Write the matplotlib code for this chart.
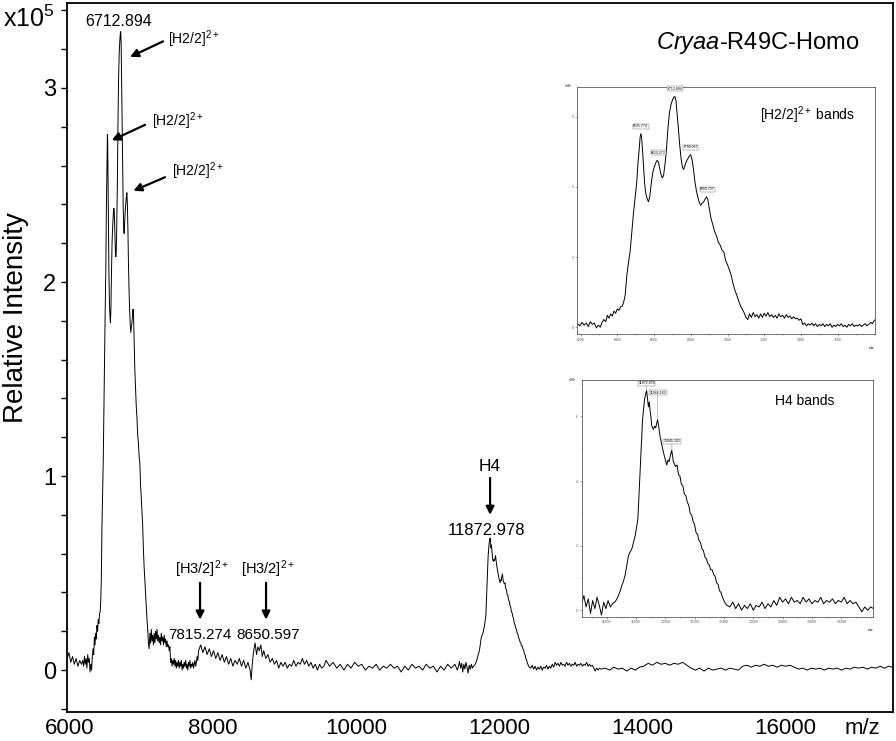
import matplotlib
matplotlib.use("Agg")
import matplotlib.pyplot as plt
from matplotlib.ticker import MultipleLocator
import numpy as np

plt.rcParams['font.family'] = ['Liberation Sans', 'DejaVu Sans']
plt.rcParams['mathtext.fontset'] = 'custom'
plt.rcParams['mathtext.rm'] = 'Liberation Sans'
plt.rcParams['mathtext.it'] = 'Liberation Sans:italic'

# spectrum: m/z and relative intensity (x10^5)
mz = [
    # left baseline
    5965, 5990, 6015, 6040, 6065, 6090, 6115, 6140, 6165,
    # [H2/2]2+ cluster
    6182, 6195, 6207, 6218, 6230, 6241, 6252, 6263, 6274, 6285, 6296, 6306, 6316, 6326, 6336, 6345,
    6354, 6363, 6372, 6381, 6390, 6399, 6408, 6417, 6426, 6434, 6442, 6451, 6460, 6469, 6478, 6487,
    6496, 6505, 6512, 6518, 6523, 6527, 6531, 6536, 6542, 6548, 6555, 6562, 6569, 6576, 6584, 6592,
    6600, 6608, 6616, 6623, 6630, 6637, 6644, 6651, 6658, 6666, 6674, 6683, 6692, 6700, 6707, 6713,
    6719, 6726, 6733, 6740, 6747, 6754, 6761, 6768, 6775, 6783, 6791, 6799, 6806, 6814, 6822, 6830,
    6838, 6846, 6854, 6862, 6870, 6878, 6885, 6892, 6900, 6910, 6920, 6930, 6940, 6950, 6960, 6970,
    6980, 6990, 7000, 7010, 7020, 7030, 7040, 7050, 7060, 7070, 7080, 7090, 7100, 7110, 7120, 7130,
    7140, 7150, 7160, 7170, 7180, 7190, 7200, 7210, 7220, 7230, 7240, 7250, 7260, 7270, 7280, 7290,
    7300, 7310, 7320, 7330, 7340, 7350, 7360, 7370, 7380, 7390, 7400, 7410, 7420, 7430, 7440, 7450,
    7460, 7470, 7480, 7490, 7500, 7510, 7520, 7530, 7540, 7550, 7560, 7570, 7580, 7590, 7600, 7610,
    7620, 7630, 7640, 7650, 7660, 7670, 7680, 7690, 7700, 7710, 7720, 7730, 7740, 7750, 7760, 7770,
    7780, 7790,
    # [H3/2]2+ region and baseline
    7800, 7830, 7860, 7890, 7920, 7950, 7980, 8010, 8040, 8070, 8100, 8130, 8160, 8190, 8220, 8250,
    8280, 8310, 8340, 8370, 8400, 8430, 8460, 8490, 8520, 8535, 8550, 8570, 8590, 8610, 8630, 8650,
    8670, 8690, 8710, 8740, 8770, 8800, 8830, 8860, 8890, 8920, 8950, 8980, 9010, 9040, 9070, 9100,
    9130, 9160, 9190, 9220, 9250, 9280, 9310, 9340, 9370, 9400, 9430, 9460, 9490, 9520, 9550, 9580,
    9630, 9680, 9730, 9780, 9830, 9880, 9930, 9980, 10030, 10080, 10130, 10180, 10230, 10280, 10330,
    10380, 10430, 10480, 10530, 10580, 10630, 10680, 10730, 10780, 10830, 10880, 10930, 10980, 11030,
    11080, 11130, 11180, 11230, 11280, 11330, 11380, 11415,
    # H4 region
    11430, 11445, 11460, 11475, 11490, 11505, 11520, 11535, 11550, 11565, 11580, 11595, 11610, 11625,
    11640, 11658, 11670, 11681, 11693, 11704, 11715, 11726, 11738, 11749, 11760, 11772, 11783, 11795,
    11813, 11829, 11845, 11858, 11866, 11873, 11879, 11885, 11891, 11896, 11902, 11908, 11914, 11919,
    11927, 11935, 11942, 11948, 11956, 11964, 11975, 11987, 11998, 12010, 12018, 12026, 12035, 12044,
    12050, 12055, 12070, 12080, 12090, 12100, 12110, 12120, 12130, 12140, 12150, 12160, 12170, 12180,
    12190, 12200, 12210, 12220, 12230, 12240, 12250, 12260, 12270, 12280, 12290, 12300, 12310, 12320,
    12330, 12340, 12350, 12360, 12370, 12380, 12390, 12400, 12410, 12420, 12440, 12460, 12480, 12500,
    12520, 12540, 12560, 12580, 12600, 12620, 12640, 12660, 12680, 12700, 12720, 12740, 12760, 12780,
    12800, 12820, 12840, 12860, 12880, 12900, 12920, 12940, 12960, 12980, 13000, 13020, 13040, 13060,
    13080, 13100, 13120, 13140, 13160, 13180, 13200, 13220, 13240, 13260, 13280, 13300, 13320, 13340,
    13360, 13380, 13400, 13420,
    # right baseline
    13480, 13540, 13600, 13660, 13720, 13780, 13840, 13900, 13960, 14020, 14080, 14140, 14200, 14260,
    14320, 14380, 14440, 14500, 14560, 14620, 14680, 14740, 14800, 14860, 14920, 14980, 15040, 15100,
    15160, 15220, 15280, 15340, 15400, 15460, 15520, 15580, 15640, 15700, 15760, 15820, 15880, 15940,
    16000, 16060, 16120, 16180, 16240, 16300, 16360, 16420, 16480, 16540, 16600, 16660, 16720, 16780,
    16840, 16900, 16960, 17020, 17080, 17140, 17200, 17260, 17320, 17380, 17440, 17490,
]
intensity = [
    0.06, 0.09, 0.04, 0.07, 0.03, 0.06, 0.02, 0.05, 0.03,
    0.05, 0.02, 0.07, 0.03, 0.06, 0.01, 0.08, 0.04, 0.06, -0.01, 0.03, 0.00, 0.07, 0.11, 0.08, 0.17,
    0.13, 0.19, 0.16, 0.23, 0.20, 0.26, 0.24, 0.29, 0.30, 0.36, 0.46, 0.74, 0.92, 1.08, 1.35, 1.62,
    1.85, 2.07, 2.35, 2.52, 2.70, 2.76, 2.72, 2.55, 2.30, 2.05, 1.90, 1.83, 1.79, 1.86, 2.05, 2.20,
    2.28, 2.34, 2.38, 2.36, 2.27, 2.18, 2.13, 2.16, 2.30, 2.50, 2.80, 3.05, 3.18, 3.24, 3.28, 3.29,
    3.23, 3.02, 2.80, 2.58, 2.40, 2.28, 2.25, 2.31, 2.36, 2.40, 2.44, 2.46, 2.40, 2.26, 2.08, 1.95,
    1.85, 1.78, 1.74, 1.77, 1.79, 1.83, 1.86, 1.83, 1.70, 1.55, 1.46, 1.36, 1.30, 1.21, 1.17, 1.10,
    1.07, 0.95, 0.89, 0.82, 0.74, 0.62, 0.53, 0.46, 0.38, 0.31, 0.26, 0.21, 0.14, 0.11, 0.19, 0.14,
    0.21, 0.15, 0.18, 0.13, 0.19, 0.14, 0.20, 0.16, 0.21, 0.15, 0.18, 0.14, 0.17, 0.13, 0.19, 0.15,
    0.17, 0.13, 0.18, 0.14, 0.16, 0.12, 0.15, 0.12, 0.13, 0.10, 0.12, 0.04, 0.06, 0.02, 0.05, 0.03,
    0.06, 0.02, 0.05, 0.01, 0.04, 0.02, 0.05, 0.01, 0.04, 0.02, 0.05, 0.00, 0.03, 0.01, 0.04, 0.02,
    0.05, 0.01, 0.03, 0.00, 0.04, 0.02, 0.05, 0.01, 0.03, 0.02, 0.04, 0.01, 0.03, 0.05, 0.02, 0.04,
    0.07, 0.05,
    0.10, 0.13, 0.09, 0.12, 0.08, 0.11, 0.07, 0.10, 0.06, 0.09, 0.05, 0.08, 0.04, 0.07, 0.03, 0.06,
    0.02, 0.05, 0.03, 0.06, 0.02, 0.05, 0.01, 0.04, 0.00, -0.05, 0.03, 0.10, 0.14, 0.08, 0.12, 0.10,
    0.13, 0.07, 0.10, 0.06, 0.08, 0.04, 0.06, 0.03, 0.05, 0.01, 0.04, 0.02, 0.04, 0.01, 0.03, 0.02,
    0.05, 0.02, 0.04, 0.03, 0.06, 0.03, 0.05, 0.02, 0.04, 0.01, 0.03, 0.00, 0.03, 0.01, 0.02, 0.05,
    0.02, 0.04, 0.01, 0.03, 0.00, 0.03, 0.01, 0.04, 0.02, 0.03, 0.00, 0.02, 0.01, 0.03, 0.00,
    0.02, 0.01, 0.03, 0.01, 0.02, -0.01, 0.02, 0.00, 0.03, 0.01, 0.02, 0.00, 0.03, 0.01,
    0.02, -0.01, 0.02, 0.00, 0.03, 0.01, 0.03, 0.00,
    0.020, 0.045, 0.010, 0.035, -0.010, 0.030, 0.005, 0.040, 0.015, -0.015, 0.025, 0.005, 0.030, 0.010,
    0.020, 0.026, 0.035, 0.046, 0.060, 0.077, 0.090, 0.108, 0.140, 0.169, 0.180, 0.190, 0.210, 0.231,
    0.282, 0.436, 0.590, 0.651, 0.670, 0.680, 0.655, 0.630, 0.645, 0.620, 0.600, 0.570, 0.565, 0.560,
    0.570, 0.565, 0.580, 0.590, 0.565, 0.540, 0.515, 0.490, 0.470, 0.450, 0.465, 0.460, 0.480, 0.495,
    0.475, 0.460, 0.445, 0.450, 0.420, 0.415, 0.390, 0.385, 0.360, 0.355, 0.335, 0.325, 0.300, 0.295,
    0.275, 0.265, 0.240, 0.235, 0.215, 0.210, 0.190, 0.185, 0.165, 0.160, 0.145, 0.140, 0.125, 0.125,
    0.110, 0.105, 0.085, 0.080, 0.060, 0.055, 0.040, 0.030, 0.020, 0.015, 0.010, 0.025, 0.005, 0.020,
    0.000, 0.015, 0.005, 0.020, 0.000, 0.015, 0.010, 0.025, 0.005, 0.020, 0.010, 0.030, 0.015, 0.040,
    0.025, 0.035, 0.020, 0.040, 0.025, 0.030, 0.020, 0.040, 0.025, 0.035, 0.020, 0.030, 0.025, 0.040,
    0.020, 0.030, 0.025, 0.035, 0.020, 0.030, 0.025, 0.040, 0.020, 0.030, 0.020, 0.025, 0.010, -0.005,
    0.010, 0.000, 0.010, 0.005,
    0.010, 0.000, 0.015, 0.005, 0.010, -0.005, 0.010, 0.000, 0.015, 0.020, 0.035, 0.025, 0.040, 0.030,
    0.035, 0.025, 0.035, 0.030, 0.040, 0.025, 0.010, 0.000, 0.010, -0.005, 0.010, 0.000, 0.005, 0.010,
    0.000, 0.010, 0.005, 0.000, 0.020, 0.025, 0.015, 0.025, 0.020, 0.030, 0.020, 0.025, 0.015, 0.025,
    0.020, 0.025, 0.015, 0.005, 0.010, 0.000, 0.010, 0.005, 0.010, 0.000, 0.010, 0.005, 0.010, 0.000,
    0.010, 0.005, 0.015, 0.010, 0.015, 0.005, 0.015, 0.010, 0.020, 0.010, 0.020, 0.015,
]

xticks_main = [6000, 8000, 10000, 12000, 14000, 16000]
yticks_main = [0, 1, 2, 3]

h2_peaks = [6525.774, 6623.273, 6712.894, 6799.067, 6890.737]
h2_peak_heights = [2.76, 2.38, 3.29, 2.46, 1.86]
h4_peaks = [11872.978, 11948.183, 12045.101]
h4_peak_heights = [6.8, 5.9, 4.95]   # x10^4
h3_peaks = [7815.274, 8650.597]

mz = np.array(mz)
intensity = np.array(intensity)

fig = plt.figure(figsize=(8.96, 7.41), dpi=100)
ax = fig.add_axes([0.0748, 0.039, 0.9219, 0.957])
ax.plot(mz, intensity, color='black', lw=0.7)
ax.set_xlim(5963, 17500)
ax.set_ylim(-0.2165, 3.438)
ax.set_xticks(xticks_main)
ax.set_yticks(yticks_main)
ax.yaxis.set_minor_locator(MultipleLocator(0.2))
ax.tick_params(axis='x', length=0, labelsize=16, pad=4)
ax.tick_params(axis='y', which='both', direction='out', length=4, width=1, labelsize=17, pad=4)
for s in ax.spines.values():
    s.set_linewidth(1.3)
ax.set_ylabel('Relative Intensity', fontsize=20)
ax.yaxis.set_label_coords(-0.046, 0.556)

fig.text(0.003, 0.975, r'x10$^5$', fontsize=18, va='center', ha='left')
fig.text(0.962, 0.017, 'm/z', fontsize=16, va='center', ha='center')
ax.text(0.8366, 0.9436, r'$\it{Cryaa}$-R49C-Homo', transform=ax.transAxes, fontsize=17,
        ha='center', va='center')

# [H2/2]2+ annotations
akw = dict(arrowstyle='-|>', color='black', lw=1.6, mutation_scale=12, shrinkA=0, shrinkB=0)
ax.text(6685, 3.345, '6712.894', fontsize=11.5, ha='center', va='center')
ax.annotate('', xy=(6843, 3.16), xytext=(7304, 3.24), arrowprops=akw)
ax.text(7374, 3.25, r'[H2/2]$^{2+}$', fontsize=10, ha='left', va='center')
ax.annotate('', xy=(6587, 2.73), xytext=(7053, 2.81), arrowprops=akw)
ax.text(7150, 2.83, r'[H2/2]$^{2+}$', fontsize=10, ha='left', va='center')
ax.annotate('', xy=(6889, 2.47), xytext=(7332, 2.54), arrowprops=akw)
ax.text(7426, 2.57, r'[H2/2]$^{2+}$', fontsize=10, ha='left', va='center')

# [H3/2]2+ annotations
for pk, xa, xl in zip(h3_peaks, [7821, 8743], [7821, 8771]):
    ax.annotate('', xy=(xa, 0.26), xytext=(xa, 0.45), arrowprops=akw)
    ax.text(xa + 30, 0.52, r'[H3/2]$^{2+}$', fontsize=10.5, ha='center', va='center')
    ax.text(xl, 0.18, f'{pk:.3f}', fontsize=11, ha='center', va='center')

# H4 annotation
ax.text(11872, 1.048, 'H4', fontsize=12.5, ha='center', va='center')
ax.annotate('', xy=(11872, 0.80), xytext=(11872, 0.99), arrowprops=akw)
ax.text(11826, 0.72, '11872.978', fontsize=12, ha='center', va='center')


def style_inset(a):
    for s in a.spines.values():
        s.set_linewidth(0.6)
        s.set_color('0.35')
    a.tick_params(which='both', direction='out', length=1.5, width=0.4, labelsize=2.5,
                  pad=1, colors='0.35')
    a.tick_params(which='minor', length=1)


# inset 1: [H2/2]2+ bands
ax1 = fig.add_axes([0.6443, 0.5489, 0.3323, 0.3341])
ax1.plot(mz, intensity, color='black', lw=0.7)
ax1.set_xlim(6181, 7804)
ax1.set_ylim(-0.1, 3.43)
ax1.set_xticks(range(6200, 7800, 200))
ax1.xaxis.set_minor_locator(MultipleLocator(100))
ax1.set_yticks([0, 1, 2, 3])
style_inset(ax1)
ax1.text(-0.03, 1.0, r'x10$^5$', transform=ax1.transAxes, fontsize=2.5, ha='center', va='center')
ax1.text(0.99, -0.055, 'm/z', transform=ax1.transAxes, fontsize=2.5, ha='center', va='center')
ax1.text(0.614, 0.886, r'[H2/2]$^{2+}$ bands', transform=ax1.transAxes, fontsize=10, ha='left',
         va='center')
for pk, h in zip(h2_peaks, h2_peak_heights):
    ax1.annotate(f'{pk:.3f}', xy=(pk, h), xytext=(0, 4), textcoords='offset points',
                 fontsize=2.5, ha='center', va='bottom',
                 bbox=dict(boxstyle='square,pad=0.15', fc='white', ec='0.4', lw=0.3))

# inset 2: H4 bands
ax2 = fig.add_axes([0.6492, 0.1678, 0.3254, 0.3194])
ax2.plot(mz, intensity * 10, color='black', lw=0.7)
ax2.set_xlim(11430, 13418)
ax2.set_ylim(-0.2, 7.13)
ax2.set_xticks(range(11600, 13400, 200))
ax2.xaxis.set_minor_locator(MultipleLocator(100))
ax2.set_yticks([0, 2, 4, 6])
ax2.yaxis.set_minor_locator(MultipleLocator(1))
style_inset(ax2)
ax2.text(-0.03, 1.0, r'x10$^4$', transform=ax2.transAxes, fontsize=2.5, ha='center', va='center')
ax2.text(0.99, -0.055, 'm/z', transform=ax2.transAxes, fontsize=2.5, ha='center', va='center')
ax2.text(0.663, 0.913, 'H4 bands', transform=ax2.transAxes, fontsize=10, ha='left', va='center')
for pk, h, dy in zip(h4_peaks, h4_peak_heights, [4, 18, 5]):
    ax2.annotate(f'{pk:.3f}', xy=(pk, h), xytext=(0, dy), textcoords='offset points',
                 fontsize=2.5, ha='center', va='bottom',
                 bbox=dict(boxstyle='square,pad=0.15', fc='white', ec='0.4', lw=0.3),
                 arrowprops=dict(arrowstyle='-', lw=0.3, color='0.4', shrinkA=0, shrinkB=0))

fig.savefig('out.png', dpi=100)
